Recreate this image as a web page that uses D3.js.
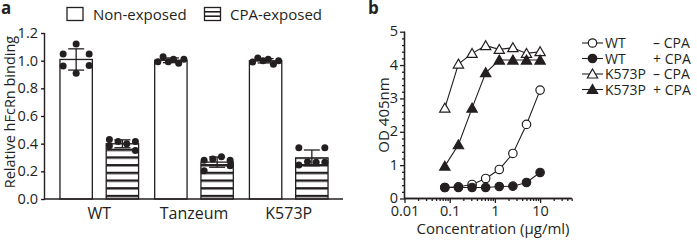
<!DOCTYPE html>
<html><head><meta charset="utf-8">
<script src="https://cdn.jsdelivr.net/npm/d3@7"></script>
<style>
body{margin:0;background:#fff}
svg{display:block}
text{font-family:"Open Sans",sans-serif;fill:#231f20}
</style>
</head><body>
<svg id="c" width="697" height="241"></svg>
<script>
// ---------- data: panel a ----------
const groups = ["WT", "Tanzeum", "K573P"];
const conditions = ["Non-exposed", "CPA-exposed"];
const nonExposed = [
  [1.048, 1.12, 1.048, 0.962, 0.965, 0.909],
  [0.993, 1.029, 0.993, 1.01, 0.981, 1.01],
  [0.99, 1.02, 1.0, 1.01, 0.975, 1.0]
];
const cpaExposed = [
  [0.43, 0.415, 0.40, 0.385, 0.415, 0.35],
  [0.28, 0.29, 0.305, 0.28, 0.205, 0.24],
  [0.245, 0.37, 0.27, 0.37, 0.265, 0.265]
];
const yTicksA = [0, 0.2, 0.4, 0.6, 0.8, 1.0, 1.2];

// ---------- data: panel b ----------
const conc = [0.078, 0.156, 0.3125, 0.625, 1.25, 2.5, 5, 10];
const wtMinus = [0.33, 0.35, 0.42, 0.6, 0.87, 1.35, 2.22, 3.25];
const wtPlus = [0.33, 0.33, 0.33, 0.33, 0.36, 0.37, 0.48, 0.78];
const kMinus = [2.71, 4.03, 4.35, 4.58, 4.47, 4.52, 4.35, 4.4];
const kPlus = [0.97, 1.61, 2.71, 3.77, 4.15, 4.15, 4.15, 4.15];
const seriesNames = ["WT", "WT", "K573P", "K573P"];
const seriesCPA = ["\u2013 CPA", "+ CPA", "\u2013 CPA", "+ CPA"];
const xTicksB = [0.01, 0.1, 1, 10];
const yTicksB = [0, 1, 2, 3, 4, 5];

const svg = d3.select("#c");
const ink = "#231f20";

// ================= PANEL A =================
const xA = d3.scaleBand().domain(groups).range([45, 343]).paddingInner(0.17).paddingOuter(0.158);
const xSub = d3.scaleBand().domain(conditions).range([0, xA.bandwidth()]).paddingInner(0.3);
const yA = d3.scaleLinear().domain([0, 1.2]).range([199, 33]);

const defs = svg.append("defs");
const pat = defs.append("pattern").attr("id", "hatch").attr("patternUnits", "userSpaceOnUse")
  .attr("width", 10).attr("height", 7.7).attr("x", 0).attr("y", 194.85);
pat.append("rect").attr("width", 10).attr("height", 7.7).attr("fill", "#fff");
pat.append("rect").attr("width", 10).attr("height", 2.4).attr("fill", ink);

const gA = svg.append("g");
const seriesA = [nonExposed, cpaExposed];

groups.forEach((g, gi) => {
  conditions.forEach((c, ci) => {
    const vals = seriesA[ci][gi];
    const mean = d3.mean(vals), sd = d3.deviation(vals);
    const x0 = xA(g) + xSub(c), w = xSub.bandwidth(), cx = x0 + w / 2;
    gA.append("rect").attr("x", x0).attr("y", yA(mean)).attr("width", w)
      .attr("height", yA(0) - yA(mean))
      .attr("fill", ci === 0 ? "#fff" : "url(#hatch)")
      .attr("stroke", ink).attr("stroke-width", 1.3);
    gA.append("line").attr("x1", cx).attr("x2", cx).attr("y1", yA(mean + sd)).attr("y2", yA(mean - sd))
      .attr("stroke", ink).attr("stroke-width", 1.3);
    [mean + sd, mean - sd].forEach(v => {
      gA.append("line").attr("x1", cx - 8).attr("x2", cx + 8).attr("y1", yA(v)).attr("y2", yA(v))
        .attr("stroke", ink).attr("stroke-width", 1.3);
    });
    const rows = [];
    vals.forEach(v => {
      let r = rows.find(r => Math.abs(yA(r.ref) - yA(v)) < 5);
      if (!r) { r = { ref: v, pts: [] }; rows.push(r); }
      r.pts.push(v);
    });
    rows.forEach(r => {
      const n = r.pts.length;
      r.pts.forEach((v, i) => {
        const off = n === 1 ? 0 : -13 + 26 * i / (n - 1);
        gA.append("circle").attr("cx", cx + off).attr("cy", yA(v)).attr("r", 3.5).attr("fill", ink);
      });
    });
  });
});

const axYA = d3.axisLeft(yA).tickValues(yTicksA).tickFormat(d3.format(".1f")).tickSize(4).tickPadding(3);
const gyA = svg.append("g").attr("transform", "translate(45,0)").call(axYA);
gyA.select(".domain").attr("d", `M-0.5,${yA(1.2)}V${yA(0)}`);
const axXA = d3.axisBottom(xA).tickSize(0).tickPadding(9);
const gxA = svg.append("g").attr("transform", `translate(0,${yA(0)})`).call(axXA);
gxA.select(".domain").attr("d", "M45,0H343");
[gyA, gxA].forEach(g => {
  g.selectAll("path,line").attr("stroke", ink).attr("stroke-width", 1.4);
  g.selectAll("text").attr("font-family", "Open Sans").attr("font-size", 14.5).attr("fill", ink);
});
gxA.selectAll("text").attr("font-size", 16);

svg.append("text").attr("transform", `translate(14.5,112) rotate(-90)`).attr("text-anchor", "middle")
  .attr("font-size", 14.5).text("Relative hFcRn binding");
svg.append("text").attr("x", 1).attr("y", 13.5).attr("font-weight", "bold").attr("font-size", 17).text("a");

const legA = svg.append("g");
legA.append("rect").attr("x", 67).attr("y", 7.5).attr("width", 16).attr("height", 13)
  .attr("fill", "#fff").attr("stroke", ink).attr("stroke-width", 1.3);
legA.append("text").attr("x", 93).attr("y", 19.5).attr("font-size", 15).text(conditions[0]);
legA.append("rect").attr("x", 204.5).attr("y", 7.5).attr("width", 16).attr("height", 13)
  .attr("fill", "#fff").attr("stroke", ink).attr("stroke-width", 1.3);
[11.8, 16.2].forEach(y => legA.append("line").attr("x1", 204.5).attr("x2", 220.5).attr("y1", y).attr("y2", y)
  .attr("stroke", ink).attr("stroke-width", 1.6));
legA.append("text").attr("x", 230).attr("y", 19.5).attr("font-size", 15).text(conditions[1]);

// ================= PANEL B =================
const xB = d3.scaleLog().domain([0.01, 50]).range([404.5, 404.5 + Math.log10(5000) * 45.2]);
const yB = d3.scaleLinear().domain([0, 5]).range([198.5, 31.7]);

const minorX = [];
[0.01, 0.1, 1, 10].forEach(d => { for (let k = 2; k <= 9; k++) { const v = d * k; if (v <= 50) minorX.push(v); } });
const minorY = d3.range(0, 5.001, 0.2).filter(v => Math.abs(v - Math.round(v)) > 1e-6);

const gxB = svg.append("g").attr("transform", `translate(0,${yB(0)})`);
gxB.call(d3.axisBottom(xB).tickValues(minorX).tickSize(2.5).tickFormat(""));
gxB.append("g").call(d3.axisBottom(xB).tickValues(xTicksB).tickSize(4.5).tickPadding(3)
  .tickFormat(d => d >= 1 ? d3.format("d")(d) : String(d)));
gxB.selectAll(".domain").attr("d", `M${xB.range()[0] - 0.5},0H${xB.range()[1]}`);

const gyB = svg.append("g").attr("transform", `translate(${xB.range()[0]},0)`);
gyB.call(d3.axisLeft(yB).tickValues(minorY).tickSize(2.5).tickFormat(""));
gyB.append("g").call(d3.axisLeft(yB).tickValues(yTicksB).tickSize(4.5).tickPadding(2).tickFormat(d3.format("d")));
gyB.selectAll(".domain").attr("d", `M0,${yB(5)}V${yB(0)}`);
[gxB, gyB].forEach(g => {
  g.selectAll("path,line").attr("stroke", ink).attr("stroke-width", 1.3);
  g.selectAll("text").attr("font-family", "Open Sans").attr("font-size", 14.5).attr("fill", ink);
});
gyB.selectAll("text").attr("dy", "0.28em");

svg.append("text").attr("transform", `translate(389,115) rotate(-90)`).attr("text-anchor", "middle")
  .attr("font-size", 15).text("OD 405nm");
svg.append("text").attr("x", 493).attr("y", 234).attr("text-anchor", "middle")
  .attr("font-size", 15).text("Concentration (\u00b5g/ml)");
svg.append("text").attr("x", 368).attr("y", 13.5).attr("font-weight", "bold").attr("font-size", 17).text("b");

const seriesB = [
  { vals: wtMinus, shape: "circle", fill: "#fff" },
  { vals: wtPlus, shape: "circle", fill: ink },
  { vals: kMinus, shape: "triangle", fill: "#fff" },
  { vals: kPlus, shape: "triangle", fill: ink }
];
const sym = s => s === "circle" ? d3.symbol(d3.symbolCircle, 56)() : d3.symbol(d3.symbolTriangle, 46)();
const line = d3.line().x((d, i) => xB(conc[i])).y(d => yB(d));
const gB = svg.append("g");
seriesB.forEach(s => {
  gB.append("path").attr("d", line(s.vals)).attr("fill", "none").attr("stroke", ink).attr("stroke-width", 1.1);
  s.vals.forEach((v, i) => {
    gB.append("path").attr("d", sym(s.shape))
      .attr("transform", `translate(${xB(conc[i])},${yB(v) + (s.shape === "triangle" ? 1 : 0)})`)
      .attr("fill", s.fill).attr("stroke", ink).attr("stroke-width", 1.2);
  });
});

const legB = svg.append("g");
const rowsY = [43, 58.5, 74, 89.5];
seriesB.forEach((s, i) => {
  const y = rowsY[i];
  legB.append("line").attr("x1", 582).attr("x2", 603).attr("y1", y).attr("y2", y).attr("stroke", ink).attr("stroke-width", 1.1);
  legB.append("path").attr("d", sym(s.shape))
    .attr("transform", `translate(592.5,${y + (s.shape === "triangle" ? 1 : 0)})`)
    .attr("fill", s.fill).attr("stroke", ink).attr("stroke-width", 1.2);
  legB.append("text").attr("x", 605).attr("y", y + 5).attr("font-size", 14).text(seriesNames[i]);
  legB.append("text").attr("x", 653).attr("y", y + 5).attr("font-size", 14).text(seriesCPA[i]);
});
</script>
</body></html>
